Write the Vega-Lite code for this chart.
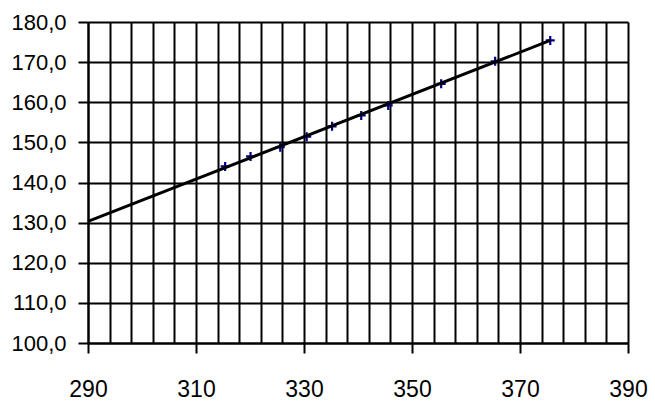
{
  "$schema": "https://vega.github.io/schema/vega-lite/v6.json",
  "width": 540,
  "height": 321,
  "autosize": {"type": "none"},
  "padding": {"left": 88, "top": 22, "right": 27, "bottom": 67},
  "background": "white",
  "config": {"view": {"stroke": null}},
  "datasets": {
    "points": [
      {"x": 315.4, "y": 144.0},
      {"x": 320.1, "y": 146.5},
      {"x": 325.6, "y": 148.8},
      {"x": 330.5, "y": 151.4},
      {"x": 335.2, "y": 154.0},
      {"x": 340.6, "y": 156.7},
      {"x": 345.6, "y": 159.2},
      {"x": 355.4, "y": 164.6},
      {"x": 365.4, "y": 170.2},
      {"x": 375.6, "y": 175.4}
    ],
    "trend": [
      {"x": 290, "y": 130.3},
      {"x": 375.6, "y": 175.4}
    ]
  },
  "layer": [
    {
      "data": {"name": "points"},
      "mark": {"type": "point", "shape": "M-1,0L1,0M0,-1L0,1", "size": 81, "stroke": "#000080", "strokeWidth": 2.2, "filled": false, "opacity": 1},
      "encoding": {
        "x": {
          "field": "x", "type": "quantitative",
          "scale": {"domain": [290, 390], "nice": false, "zero": false},
          "axis": {
            "title": null,
            "tickCount": 40,
            "values": [290,294,298,302,306,310,314,318,322,326,330,334,338,342,346,350,354,358,362,366,370,374,378,382,386,390],
            "grid": true, "gridColor": "black", "gridWidth": 2, "gridOpacity": 1,
            "domain": true, "domainColor": "black", "domainWidth": 2,
            "ticks": true, "tickColor": "black", "tickWidth": 2, "tickSize": 10,
            "tickOpacity": {"condition": {"test": "datum.value % 20 == 10", "value": 1}, "value": 0},
            "labelExpr": "datum.value % 20 == 10 ? datum.label : ''",
            "labelFont": "Liberation Sans", "labelFontSize": 23, "labelColor": "black",
            "labelPadding": 25, "labelFlush": false, "labelOverlap": false
          }
        },
        "y": {
          "field": "y", "type": "quantitative",
          "scale": {"domain": [100, 180], "nice": false, "zero": false},
          "axis": {
            "title": null,
            "tickCount": 20,
            "values": [100,110,120,130,140,150,160,170,180],
            "grid": true, "gridColor": "black", "gridWidth": 2, "gridOpacity": 1,
            "domain": true, "domainColor": "black", "domainWidth": 2,
            "ticks": true, "tickColor": "black", "tickWidth": 2, "tickSize": 10,
            "labelExpr": "replace(format(datum.value, '.1f'), '.', ',')",
            "labelFont": "Liberation Sans", "labelFontSize": 22, "labelColor": "black",
            "labelPadding": 12, "labelFlush": false, "labelOverlap": false
          }
        }
      }
    },
    {
      "data": {"name": "trend"},
      "mark": {"type": "line", "color": "black", "strokeWidth": 3},
      "encoding": {
        "x": {"field": "x", "type": "quantitative"},
        "y": {"field": "y", "type": "quantitative"}
      }
    }
  ]
}
